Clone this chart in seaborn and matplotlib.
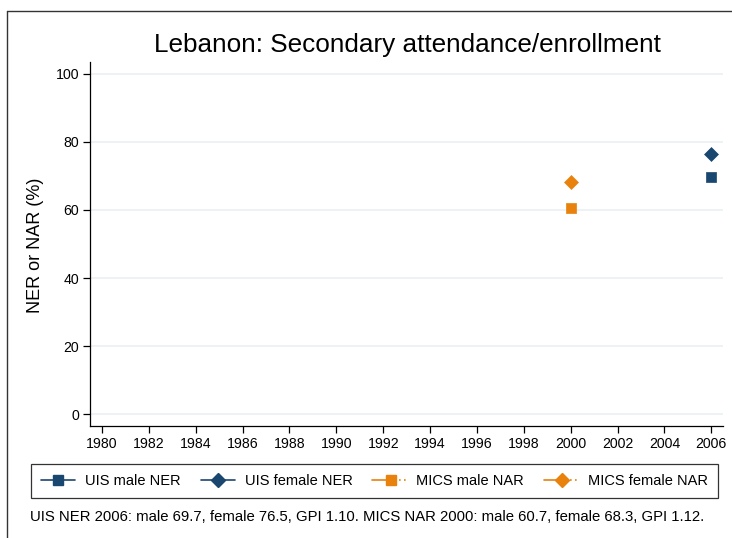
import matplotlib
matplotlib.use("Agg")
import matplotlib.pyplot as plt
import seaborn as sns
import pandas as pd
from matplotlib.lines import Line2D
from matplotlib.legend_handler import HandlerBase

sns.set_style("white")
plt.rcParams['font.family'] = ['Liberation Sans', 'DejaVu Sans']
plt.rcParams['text.color'] = 'black'
plt.rcParams['axes.labelcolor'] = 'black'
plt.rcParams['xtick.color'] = 'black'
plt.rcParams['ytick.color'] = 'black'

# Data
uis_years = [2006]
uis_male = [69.7]
uis_female = [76.5]
mics_years = [2000]
mics_male = [60.7]
mics_female = [68.3]
x_ticks = list(range(1980, 2007, 2))
y_ticks = [0, 20, 40, 60, 80, 100]
legend_labels = ["UIS male NER", "UIS female NER", "MICS male NAR", "MICS female NAR"]
note = "UIS NER 2006: male 69.7, female 76.5, GPI 1.10. MICS NAR 2000: male 60.7, female 68.3, GPI 1.12."

NAVY = "#1a476f"
ORANGE = "#e8820c"

fig = plt.figure(figsize=(7.32, 5.38), dpi=100)
ax = fig.add_axes([0.123, 0.208, 0.865, 0.677])

series = [
    (uis_years, uis_male, NAVY, "s", 45),
    (uis_years, uis_female, NAVY, "D", 50),
    (mics_years, mics_male, ORANGE, "s", 45),
    (mics_years, mics_female, ORANGE, "D", 50),
]
for xs, ys, c, m, s in series:
    df = pd.DataFrame({"year": xs, "val": ys})
    sns.scatterplot(data=df, x="year", y="val", color=c, marker=m, s=s,
                    edgecolor=c, linewidth=0.5, ax=ax, legend=False, zorder=3)

ax.set_xlim(1979.49, 2006.51)
ax.set_ylim(-3.5, 103.5)
ax.set_xticks(x_ticks)
ax.set_yticks(y_ticks)
ax.tick_params(axis='both', direction='out', length=5, width=0.9, color='black',
               labelsize=10.2, pad=3, left=True, bottom=True)
ax.grid(axis='y', color='#eaf0f4', linewidth=1.2)
ax.set_axisbelow(True)
for sp in ['top', 'right']:
    ax.spines[sp].set_visible(False)
for sp in ['left', 'bottom']:
    ax.spines[sp].set_color('black')
    ax.spines[sp].set_linewidth(0.9)
ax.set_xlabel("")
ax.set_ylabel("NER or NAR (%)", fontsize=13)
ax.yaxis.set_label_coords(-0.072, 0.496)
fig.text(0.556, 0.916, "Lebanon: Secondary attendance/enrollment",
         ha='center', va='center', fontsize=18.8)

PX = 72.0 / 100.0  # points per pixel


class HalfDotted(HandlerBase):
    def __init__(self, dotted, **kw):
        super().__init__(**kw)
        self.dotted = dotted

    def create_artists(self, legend, orig_handle, xdescent, ydescent, width,
                       height, fontsize, trans):
        c = orig_handle.get_color()
        m = orig_handle.get_marker()
        y = height / 2 - ydescent
        x0, x1 = -xdescent, -xdescent + width
        arts = []
        if self.dotted:
            xm = x0 + width * 0.55
            arts.append(Line2D([x0, xm], [y, y], color=c, lw=1.2, transform=trans))
            xd = xm + 8 * PX
            arts.append(Line2D([xd, x1], [y, y], color=c, lw=1.2,
                               ls=(0, (1.0, 2.0)), transform=trans))
        else:
            xm = x0 + width * 0.5
            arts.append(Line2D([x0, x1], [y, y], color=c, lw=1.2, transform=trans))
        ms = 6.7 if m == 's' else 7
        arts.append(Line2D([xm], [y], color=c, marker=m, markersize=ms, ls='',
                           transform=trans))
        return arts


h1 = Line2D([], [], color=NAVY, marker='s')
h2 = Line2D([], [], color=NAVY, marker='D')
h3 = Line2D([], [], color=ORANGE, marker='s')
h4 = Line2D([], [], color=ORANGE, marker='D')
leg = fig.legend([h1, h2, h3, h4], legend_labels,
                 handler_map={h1: HalfDotted(False), h2: HalfDotted(False),
                              h3: HalfDotted(True), h4: HalfDotted(True)},
                 loc='center', bbox_to_anchor=(0.5116, 0.106), ncol=4,
                 fontsize=10.5, frameon=True, fancybox=False, edgecolor='black',
                 handlelength=2.33, handletextpad=0.68, columnspacing=1.36,
                 borderpad=0.7)
leg.get_frame().set_linewidth(0.9)

fig.text(0.041, 0.039, note, ha='left', va='center', fontsize=10.75)

# outer frame lines (partially visible)
fig.add_artist(Line2D([7/732, 7/732], [0, 1 - 11/538], color='#333333', lw=1.0,
                      transform=fig.transFigure))
fig.add_artist(Line2D([7/732, 1], [1 - 11/538, 1 - 11/538], color='#333333', lw=1.0,
                      transform=fig.transFigure))

fig.savefig("out.png", dpi=100)
